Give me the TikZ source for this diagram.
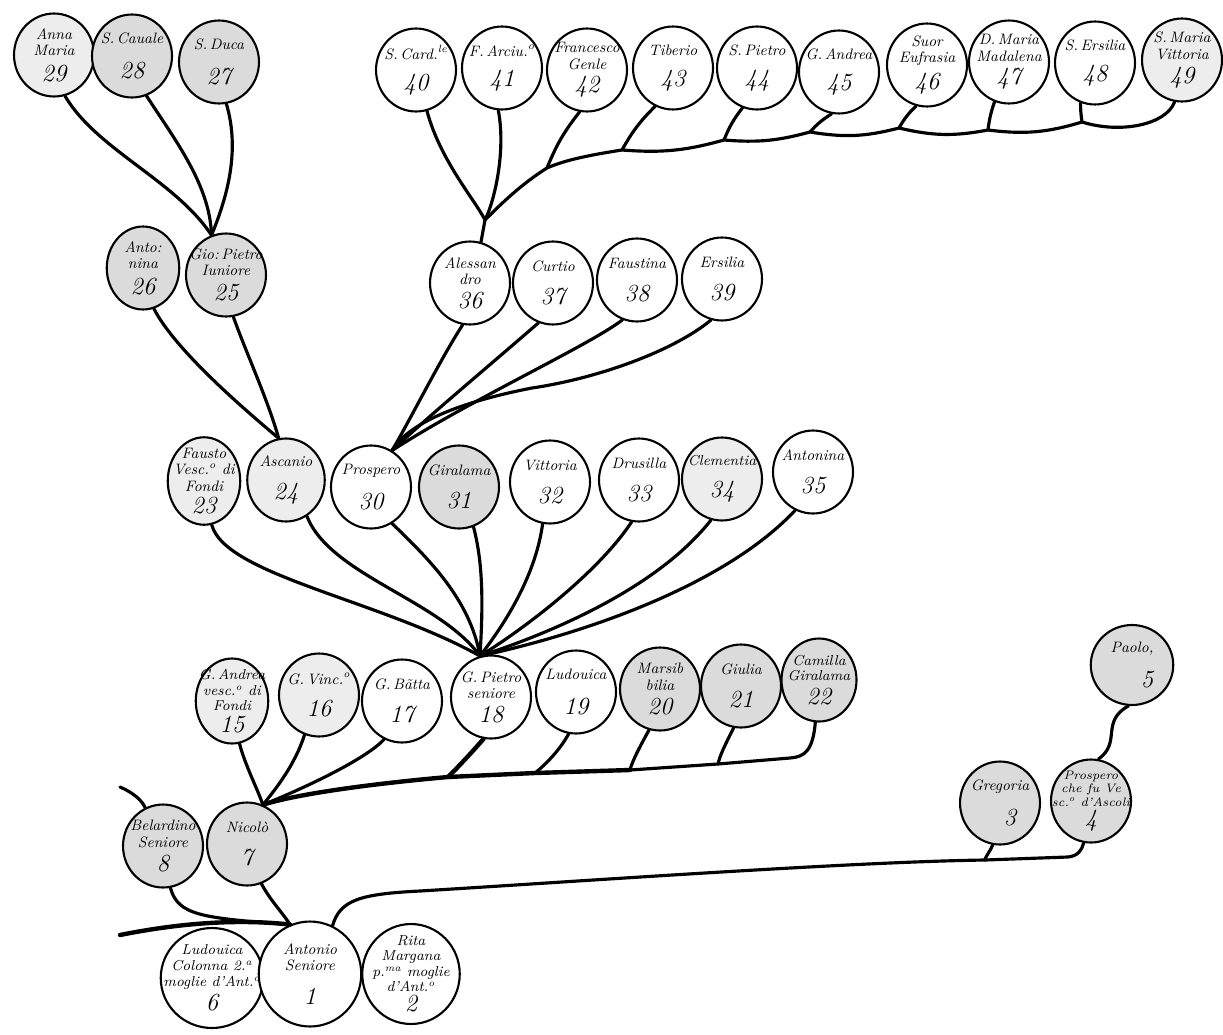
\documentclass[tikz,border=0pt]{standalone}
\usetikzlibrary{shapes.geometric}
\definecolor{grA}{gray}{0.86}
\definecolor{grB}{gray}{0.93}
\newcommand\nb[1]{{\fontsize{14}{15}\selectfont #1}}
\newcommand\sps[1]{\textsuperscript{#1}}
\tikzset{
  pers/.style={ellipse, draw=black, line width=1.2pt, minimum width=1.6cm, minimum height=1.66cm,
    inner sep=-7pt, align=center, font=\itshape\fontsize{8.6}{9.4}\selectfont, fill=white},
  big/.style={minimum width=1.95cm, minimum height=2cm},
  shA/.style={fill=grA},
  shB/.style={fill=grB},
  conn/.style={line width=1.8pt, line cap=round, line join=round},
  thick conn/.style={line width=2.5pt, line cap=round, line join=round},
}
\begin{document}
\begin{tikzpicture}[x=0.02cm, y=-0.02cm]
\useasboundingbox (0,0) rectangle (1223,1034);
\fill[white] (0,0) rectangle (1223,1034);
% ---------- top row left
\node[pers,shB] (n29) at (54,55) {Anna\\Maria\\[4pt]\nb{29}};
\node[pers,shA] (n28) at (132,56) {S.\,Cauale\\[9pt]\nb{28}};
\node[pers,shA] (n27) at (219,62) {S.\,Duca\\[9pt]\nb{27}};
% ---------- top row right
\node[pers] (n40) at (416,70) {S.\,Card.\sps{le}\\[7pt]\nb{40}};
\node[pers] (n41) at (502,68) {F.\,Arciu.\sps{o}\\[7pt]\nb{41}};
\node[pers] (n42) at (587,70) {Francesco\\Genle\\[3pt]\nb{42}};
\node[pers] (n43) at (673,68) {Tiberio\\[7pt]\nb{43}};
\node[pers] (n44) at (757,68) {S.\,Pietro\\[7pt]\nb{44}};
\node[pers] (n45) at (839,72) {G.\,Andrea\\[7pt]\nb{45}};
\node[pers] (n46) at (927,65) {Suor\\Eufrasia\\[3pt]\nb{46}};
\node[pers] (n47) at (1009,62) {D.\,Maria\\Madalena\\[3pt]\nb{47}};
\node[pers] (n48) at (1095,63) {S.\,Ersilia\\[7pt]\nb{48}};
\node[pers,shB] (n49) at (1182,60) {S.\,Maria\\Vittoria\\[3pt]\nb{49}};
% ---------- second row
\node[pers,shA,minimum width=1.45cm] (n26) at (143,268) {Anto:\\nina\\[4pt]\nb{26}};
\node[pers,shA] (n25) at (226,275) {Gio:\,Pietro\\Iuniore\\[4pt]\nb{25}};
\node[pers] (n36) at (470,283) {Alessan\\dro\\[3pt]\nb{36}};
\node[pers] (n37) at (553,283) {Curtio\\[8pt]\nb{37}};
\node[pers] (n38) at (637,280) {Faustina\\[8pt]\nb{38}};
\node[pers] (n39) at (722,279) {Ersilia\\[8pt]\nb{39}};
% ---------- third row
\node[pers,shB,minimum width=1.45cm,minimum height=1.75cm] (n23) at (204,481) {Fausto\\Vesc.\sps{o} di\\Fondi\\[2pt]\nb{23}};
\node[pers,shB,minimum width=1.55cm] (n24) at (286,480) {Ascanio\\[8pt]\nb{24}};
\node[pers] (n30) at (371,487) {Prospero\\[8pt]\nb{30}};
\node[pers,shA] (n31) at (459,487) {Giralama\\[8pt]\nb{31}};
\node[pers] (n32) at (550,482) {Vittoria\\[8pt]\nb{32}};
\node[pers] (n33) at (639,480) {Drusilla\\[8pt]\nb{33}};
\node[pers,shB,font=\itshape\fontsize{8.2}{9}\selectfont] (n34) at (722,479) {Clementia\\[8pt]\nb{34}};
\node[pers] (n35) at (813,472) {Antonina\\[8pt]\nb{35}};
% ---------- fourth row
\node[pers,shB,minimum width=1.45cm,minimum height=1.7cm,font=\itshape\fontsize{8.2}{9}\selectfont] (n15) at (232,701) {G.\,Andrea\\vesc.\sps{o} di\\Fondi\\[2pt]\nb{15}};
\node[pers,shB] (n16) at (319,695) {G.\,Vinc.\sps{o}\\[8pt]\nb{16}};
\node[pers] (n17) at (402,701) {G.\,B\~{a}tta\\[8pt]\nb{17}};
\node[pers] (n18) at (491,697) {G.\,Pietro\\seniore\\[3pt]\nb{18}};
\node[pers] (n19) at (576,692) {Ludouica\\[10pt]\nb{19}};
\node[pers,shA] (n20) at (660,689) {Marsib\\bilia\\[3pt]\nb{20}};
\node[pers,shA] (n21) at (741,686) {Giulia\\[8pt]\nb{21}};
\node[pers,shA,minimum width=1.5cm,font=\itshape\fontsize{8.2}{9}\selectfont] (n22) at (819,680) {Camilla\\Giralama\\[3pt]\nb{22}};
% ---------- right side
\node[pers,shA,minimum width=1.65cm,minimum height=1.6cm] (n5) at (1132,665) {Paolo,\\[8pt]\hspace*{0.6cm}\nb{5}};
\node[pers,shA] (n3) at (1000,803) {Gregoria\\[8pt]\hspace*{0.4cm}\nb{3}};
\node[pers,shA,font=\itshape\fontsize{7}{7.8}\selectfont] (n4) at (1091,801) {Prospero\\che fu Ve\\sc.\sps{o} d'Ascoli\\[1pt]\nb{4}};
% ---------- bottom left
\node[pers,shA] (n8) at (163,846) {Belardino\\Seniore\\[3pt]\nb{8}};
\node[pers,shA] (n7) at (247,844) {Nicol\`o\\[8pt]\nb{7}};
\node[pers,big,font=\itshape\fontsize{8.2}{9}\selectfont] (n6) at (212,978) {Ludouica\\Colonna 2.\sps{a}\\moglie d'Ant.\sps{o}\\[2pt]\nb{6}};
\node[pers,big,minimum width=2.05cm,minimum height=2.1cm] (n1) at (310,974) {Antonio\\Seniore\\[9pt]\nb{1}};
\node[pers,big,font=\itshape\fontsize{8.2}{8.8}\selectfont] (n2) at (411,974) {Rita\\Margana\\p.\sps{ma} moglie\\d'Ant.\sps{o}\\[1pt]\nb{2}};
% ================= connectors
% group into Gio:Pietro Iuniore
\draw[conn] (n29.-75) .. controls (97,150) and (175,180) .. (n25.110);
\draw[conn] (n28.-70) .. controls (175,140) and (210,185) .. (n25.110);
\draw[conn] (n27.-80) .. controls (240,150) and (228,195) .. (n25.110);
% into Ascanio
\draw[conn] (n26.-75) .. controls (175,350) and (245,410) .. (n24.100);
\draw[conn] (n25.-80) .. controls (245,350) and (268,400) .. (n24.100);
% trunk into Alessandro
\coordinate (V) at (485,220);
\coordinate (P42) at (547,168);
\coordinate (P43) at (622,150);
\coordinate (P44) at (724,140);
\coordinate (P45) at (810,132);
\coordinate (P46) at (899,128);
\coordinate (P47) at (988,130);
\coordinate (P48) at (1082,122);
\draw[conn] (n49.-100) .. controls (1166,125) and (1120,134) .. (P48)
   to[bend left=12] (P47) to[bend left=12] (P46) to[bend left=12] (P45)
   to[bend left=10] (P44) to[bend left=10] (P43)
   .. controls (590,155) and (565,160) .. (P42)
   .. controls (520,185) and (500,205) .. (V) -- (n36.75);
\draw[conn] (n40.-75) .. controls (440,160) and (475,200) .. (V);
\draw[conn] (n41.-95) .. controls (506,150) and (495,200) .. (V);
\draw[conn] (n42.-100) to[bend right=8] (P42);
\draw[conn] (n43.-115) to[bend right=8] (P43);
\draw[conn] (n44.-110) to[bend right=8] (P44);
\draw[conn] (n45.-100) to[bend right=8] (P45);
\draw[conn] (n46.-105) to[bend right=8] (P46);
\draw[conn] (n47.-110) to[bend right=6] (P47);
\draw[conn] (n48.-110) to[bend right=4] (P48);
% into Prospero 30
\draw[conn] (n36.-100) .. controls (440,360) and (410,420) .. (n30.60);
\draw[conn] (n37.-110) .. controls (490,365) and (430,415) .. (n30.60);
\draw[conn] (n38.-110) .. controls (590,345) and (470,400) .. (n30.60);
\draw[conn] (n39.-105) .. controls (675,350) and (600,378) .. (532,388)
   .. controls (470,400) and (410,420) .. (n30.60);
% fan into G. Pietro seniore 18
\draw[conn] (n23.-80) .. controls (225,575) and (380,600) .. (n18.105);
\draw[conn] (n24.-60) .. controls (330,575) and (440,600) .. (n18.105);
\draw[conn] (n30.-60) .. controls (430,560) and (470,600) .. (n18.105);
\draw[conn] (n31.-70) .. controls (485,570) and (482,620) .. (n18.105);
\draw[conn] (n32.-100) .. controls (535,580) and (500,630) .. (n18.105);
\draw[conn] (n33.-100) .. controls (600,570) and (530,625) .. (n18.105);
\draw[conn] (n34.-105) .. controls (660,585) and (560,630) .. (n18.105);
\draw[conn] (n35.-115) .. controls (730,580) and (600,630) .. (n18.105);
% trunk into Nicolo 7
\coordinate (Q22) at (790,758);
\coordinate (Q21) at (718,764);
\coordinate (Q20) at (630,770);
\coordinate (Q19) at (535,773);
\coordinate (Q18) at (448,777);
\draw[conn] (n22.-95) .. controls (813,750) and (805,757) .. (Q22) -- (Q21) -- (Q20);
\draw[thick conn] (Q20) -- (Q19) -- (Q18) .. controls (380,783) and (300,793) .. (n7.68);
\draw[conn] (n21.-100) .. controls (725,745) and (720,755) .. (Q21);
\draw[conn] (n20.-105) .. controls (638,750) and (632,762) .. (Q20);
\draw[conn] (n19.-100) .. controls (560,750) and (545,765) .. (Q19);
\draw[thick conn] (n18.-100) .. controls (465,760) and (455,770) .. (Q18);
\draw[conn] (n17.-115) .. controls (365,760) and (300,790) .. (n7.68);
\draw[conn] (n16.-110) .. controls (295,765) and (275,790) .. (n7.68);
\draw[conn] (n15.-80) .. controls (245,765) and (258,790) .. (n7.68);
% into Antonio Seniore 1
\coordinate (L1) at (120,935);
\coordinate (L2) at (120,787);
\draw[conn] (n8.-80) .. controls (178,915) and (200,918) .. (n1.112);
\draw[conn] (n7.-70) .. controls (270,900) and (282,912) .. (n1.112);
\draw[thick conn] (L1) .. controls (170,925) and (230,918) .. (n1.112);
\draw[conn] (L2) .. controls (132,792) and (142,800) .. (n8.115);
% Antonio to Gregoria and Prospero 4
\coordinate (R1) at (420,891);
\coordinate (R3) at (985,860);
\coordinate (R4) at (1068,857);
\draw[conn] (n1.65) .. controls (340,900) and (360,894) .. (R1)
   .. controls (600,880) and (850,862) .. (R3) -- (R4)
   .. controls (1078,856) and (1082,850) .. (n4.-100);
\draw[conn] (n3.-100) .. controls (990,852) and (985,857) .. (R3);
\draw[conn] (n5.-95) .. controls (1100,722) and (1122,742) .. (n4.80);
\end{tikzpicture}
\end{document}
